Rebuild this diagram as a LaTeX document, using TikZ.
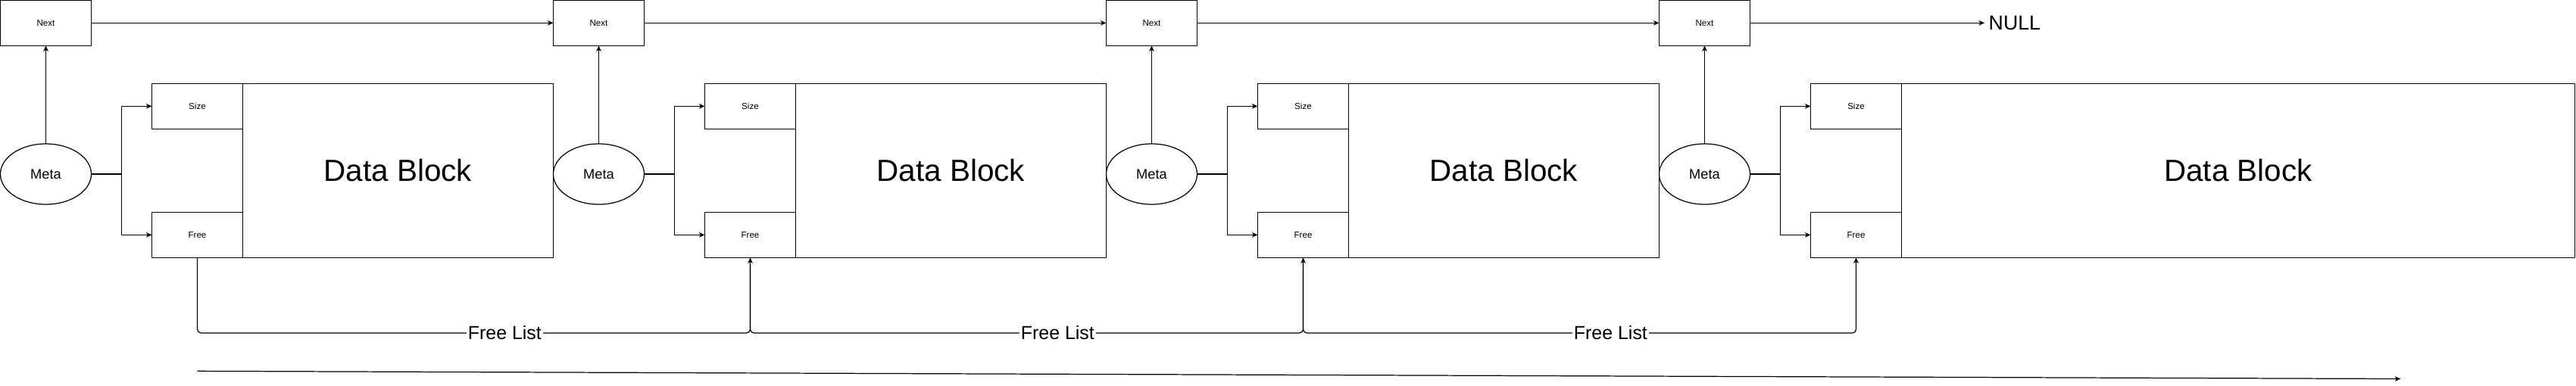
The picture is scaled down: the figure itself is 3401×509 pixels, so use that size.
\documentclass[tikz,border=0pt]{standalone}
\usepackage{fontspec}
\setmainfont{Liberation Sans}
\usepackage{tikz}
\usetikzlibrary{arrows.meta,shapes.geometric}
\tikzset{
  memnode/.style = {align=center, inner sep=0pt, outer sep=0pt, text centered,
    draw=black, line width=0.35pt},
  blk_f/.style = {memnode, rectangle, minimum width=12mm, minimum height=6mm,
    font=\fontsize{3.3pt}{4pt}\selectfont},% block field: Next, Size, Free
  blk_m/.style = {memnode, ellipse, minimum width=12mm, minimum height=8mm,
    font=\fontsize{5.2pt}{6pt}\selectfont},% meta header
  blk_d/.style = {memnode, rectangle, minimum height=23mm,
    font=\fontsize{11.5pt}{13pt}\selectfont},% payload
  fl_lbl/.style = {fill=white, inner sep=0.2mm,
    font=\fontsize{7.1pt}{8pt}\selectfont},% free list label
  null_n/.style = {inner sep=0.5mm, anchor=west,
    font=\fontsize{7.6pt}{9pt}\selectfont}
}

\begin{document}
\begin{tikzpicture}[x=0.1mm, y=-0.1mm,
  link/.style = {-{Stealth[length=0.75mm, width=0.65mm, inset=0.2mm]}, line width=0.35pt},
  wire/.style = {line width=0.35pt}]
  \useasboundingbox (0,0) rectangle (3401,509);
  % block 1
  \node [blk_f] (next1) at (60.5,30.3) {Next};
  \node [blk_m] (meta1) at (60.5,230) {Meta};
  \node [blk_f] (size1) at (260.5,140.3) {Size};
  \node [blk_f] (free1) at (260.5,310.3) {Free};
  \node [blk_d, minimum width=41mm] (data1) at (525.5,225.3) {Data Block};
  % block 2
  \node [blk_f] (next2) at (790.5,30.3) {Next};
  \node [blk_m] (meta2) at (790.5,230) {Meta};
  \node [blk_f] (size2) at (990.5,140.3) {Size};
  \node [blk_f] (free2) at (990.5,310.3) {Free};
  \node [blk_d, minimum width=41mm] (data2) at (1255.5,225.3) {Data Block};
  % block 3
  \node [blk_f] (next3) at (1520.5,30.3) {Next};
  \node [blk_m] (meta3) at (1520.5,230) {Meta};
  \node [blk_f] (size3) at (1720.5,140.3) {Size};
  \node [blk_f] (free3) at (1720.5,310.3) {Free};
  \node [blk_d, minimum width=41mm] (data3) at (1985.5,225.3) {Data Block};
  % block 4
  \node [blk_f] (next4) at (2250.5,30.3) {Next};
  \node [blk_m] (meta4) at (2250.5,230) {Meta};
  \node [blk_f] (size4) at (2450.5,140.3) {Size};
  \node [blk_f] (free4) at (2450.5,310.3) {Free};
  \node [blk_d, minimum width=88.9mm] (data4) at (2955,225.3) {Data Block};
  \node [null_n] (null) at (2620,30.3) {NULL};
  \coordinate (tl_s) at (260.7,490.3);
  \coordinate (tl_e) at (3169.4,500.5);

  % next chain
  \draw [link] (next1) -- (next2);
  \draw [link] (next2) -- (next3);
  \draw [link] (next3) -- (next4);
  \draw [link] (next4) -- (null);
  % meta pointers
  \draw [link] (meta1) -- (next1);
  \draw [link] (meta2) -- (next2);
  \draw [link] (meta3) -- (next3);
  \draw [link] (meta4) -- (next4);
  \draw [wire] (meta1.east) -- ++(40,0) coordinate (br1);
  \draw [wire] (meta2.east) -- ++(40,0) coordinate (br2);
  \draw [wire] (meta3.east) -- ++(40,0) coordinate (br3);
  \draw [wire] (meta4.east) -- ++(40,0) coordinate (br4);
  \draw [link] (br1) |- (size1.west);
  \draw [link] (br1) |- (free1.west);
  \draw [link] (br2) |- (size2.west);
  \draw [link] (br2) |- (free2.west);
  \draw [link] (br3) |- (size3.west);
  \draw [link] (br3) |- (free3.west);
  \draw [link] (br4) |- (size4.west);
  \draw [link] (br4) |- (free4.west);
  % free list
  \draw [link, rounded corners=0.5mm] (free1.south) -- (free1.south |- 0,440)
    -- node [fl_lbl, pos=0.556] {Free List} (free2.south |- 0,440) -- (free2.south);
  \draw [link, rounded corners=0.5mm] (free2.south) -- (free2.south |- 0,440)
    -- node [fl_lbl, pos=0.556] {Free List} (free3.south |- 0,440) -- (free3.south);
  \draw [link, rounded corners=0.5mm] (free3.south) -- (free3.south |- 0,440)
    -- node [fl_lbl, pos=0.556] {Free List} (free4.south |- 0,440) -- (free4.south);
  \draw [link] (tl_s) -- (tl_e);
\end{tikzpicture}
\end{document}
